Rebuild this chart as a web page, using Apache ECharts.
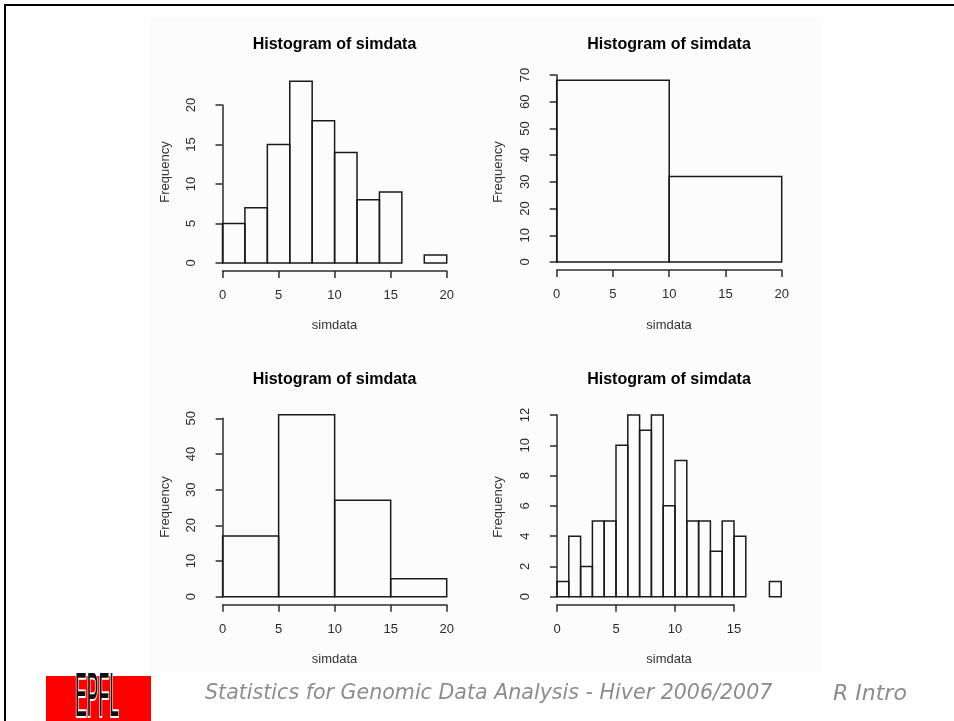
<!DOCTYPE html>
<html>
<head>
<meta charset="utf-8">
<title>Histogram of simdata</title>
<script src="https://cdn.jsdelivr.net/npm/echarts/dist/echarts.min.js"></script>
<style>
  html, body { margin: 0; padding: 0; background: #fff; }
  #chart { width: 954px; height: 721px; }
</style>
</head>
<body>
<div id="chart"></div>
<script>
// histogram breaks and counts
var breaks1 = [0, 2, 4, 6, 8, 10, 12, 14, 16, 18, 20]
var counts1 = [5, 7, 15, 23, 18, 14, 8, 9, 0, 1]
var breaks2 = [0, 10, 20]
var counts2 = [68, 32]
var breaks3 = [0, 5, 10, 15, 20]
var counts3 = [17, 51, 27, 5]
var breaks4 = [0, 1, 2, 3, 4, 5, 6, 7, 8, 9, 10, 11, 12, 13, 14, 15, 16, 17, 18, 19]
var counts4 = [1, 4, 2, 5, 5, 10, 12, 11, 12, 6, 9, 5, 5, 3, 5, 4, 0, 0, 1]

// axis tick ranges  [min, max, step]
var xTicks1 = [0, 20, 5], yTicks1 = [0, 20, 5]
var xTicks2 = [0, 20, 5], yTicks2 = [0, 70, 10]
var xTicks3 = [0, 20, 5], yTicks3 = [0, 50, 10]
var xTicks4 = [0, 15, 5], yTicks4 = [0, 12, 2]

var titleText = 'Histogram of simdata'
var xName = 'simdata'
var yName = 'Frequency'

// panel layout (pixel box of the labelled axis range)
var panels = [
  { breaks: breaks1, counts: counts1, xt: xTicks1, yt: yTicks1, left: 222.5, top: 105, width: 224.2, height: 158, cx: 334.5, titleY: 45, nameY: 325, freqX: 165, freqY: 172 },
  { breaks: breaks2, counts: counts2, xt: xTicks2, yt: yTicks2, left: 556.7, top: 75, width: 225, height: 187, cx: 669, titleY: 45, nameY: 325, freqX: 498, freqY: 172 },
  { breaks: breaks3, counts: counts3, xt: xTicks3, yt: yTicks3, left: 222.6, top: 418.3, width: 224.1, height: 178.4, cx: 334.5, titleY: 380, nameY: 659, freqX: 165, freqY: 507 },
  { breaks: breaks4, counts: counts4, xt: xTicks4, yt: yTicks4, left: 557, top: 415, width: 177, height: 181.7, cx: 669, titleY: 380, nameY: 659, freqX: 498, freqY: 507 }
]

var FONT = 'Liberation Sans, Arial, sans-serif'
var axisColor = '#2b2b2b'

function renderHist(params, api) {
  var x0 = api.value(0), x1 = api.value(1), n = api.value(2)
  if (!n) return
  var p0 = api.coord([x0, 0])
  var p1 = api.coord([x1, n])
  return {
    type: 'rect',
    shape: { x: p0[0], y: p1[1], width: p1[0] - p0[0], height: p0[1] - p1[1] },
    style: { fill: 'none', stroke: '#1a1a1a', lineWidth: 1.5 }
  }
}

var option = {
  animation: false,
  backgroundColor: '#fff',
  title: [],
  grid: [],
  xAxis: [],
  yAxis: [],
  series: [],
  graphic: [
    // slide frame and plot backdrop
    { type: 'rect', z: -10, shape: { x: 150, y: 17, width: 672, height: 655 }, style: { fill: '#fcfcfc' } },
    { type: 'rect', shape: { x: 4, y: 4, width: 950, height: 2 }, style: { fill: '#000' } },
    { type: 'rect', shape: { x: 4, y: 4, width: 2, height: 717 }, style: { fill: '#000' } },
    // EPFL logo
    { type: 'rect', shape: { x: 46, y: 676, width: 105, height: 45 }, style: { fill: '#ff0000' } },
    { type: 'text', x: 97, y: 699, scaleX: 0.42, scaleY: 1.5,
      style: { text: 'EPFL', font: '42px Liberation Sans, Arial', fill: '#111', stroke: '#fff', lineWidth: 2.5, align: 'center', verticalAlign: 'middle' } },
    // footer
    { type: 'text', x: 205, y: 694,
      style: { text: 'Statistics for Genomic Data Analysis - Hiver 2006/2007', font: 'italic 20.6px DejaVu Sans, sans-serif', fill: '#8c8c8c', verticalAlign: 'middle' } },
    { type: 'text', x: 833, y: 694,
      style: { text: 'R Intro', font: 'italic 22px DejaVu Sans, sans-serif', fill: '#8c8c8c', verticalAlign: 'middle' } }
  ]
}

panels.forEach(function (p, i) {
  var data = []
  for (var k = 0; k < p.counts.length; k++) {
    data.push([p.breaks[k], p.breaks[k + 1], p.counts[k]])
  }
  option.title.push({
    text: titleText, left: p.cx, top: p.titleY, textAlign: 'center', textVerticalAlign: 'middle', padding: 0,
    textStyle: { fontFamily: FONT, fontSize: 16, fontWeight: 'bold', color: '#000' }
  })
  option.grid.push({ left: p.left, top: p.top, width: p.width, height: p.height })
  option.xAxis.push({
    type: 'value', gridIndex: i, min: p.xt[0], max: p.xt[1], interval: p.xt[2], offset: 8,
    axisLine: { show: true, onZero: false, lineStyle: { color: axisColor, width: 1.5 } },
    axisTick: { show: true, length: 7, lineStyle: { color: axisColor, width: 1.5 } },
    axisLabel: { margin: 18, fontFamily: FONT, fontSize: 13, color: '#2b2b2b' },
    splitLine: { show: false }
  })
  option.yAxis.push({
    type: 'value', gridIndex: i, min: p.yt[0], max: p.yt[1], interval: p.yt[2], offset: 9,
    axisLine: { show: true, lineStyle: { color: axisColor, width: 1.5 } },
    axisTick: { show: true, length: 7, lineStyle: { color: axisColor, width: 1.5 } },
    axisLabel: { margin: 16, rotate: 90, fontFamily: FONT, fontSize: 13, color: '#2b2b2b' },
    splitLine: { show: false }
  })
  option.series.push({
    type: 'custom', xAxisIndex: i, yAxisIndex: i, clip: false,
    encode: { x: [0, 1], y: 2 },
    renderItem: renderHist, data: data
  })
  option.graphic.push({ type: 'text', x: p.cx, y: p.nameY,
    style: { text: xName, font: '13px ' + FONT, fill: '#333', align: 'center', verticalAlign: 'middle' } })
  option.graphic.push({ type: 'text', x: p.freqX, y: p.freqY, rotation: Math.PI / 2,
    style: { text: yName, font: '13px ' + FONT, fill: '#333', align: 'center', verticalAlign: 'middle' } })
})

var chart = echarts.init(document.getElementById('chart'), null, { renderer: 'canvas' })
chart.setOption(option)
window.onresize = function () {
  chart.resize()
}
</script>
</body>
</html>
